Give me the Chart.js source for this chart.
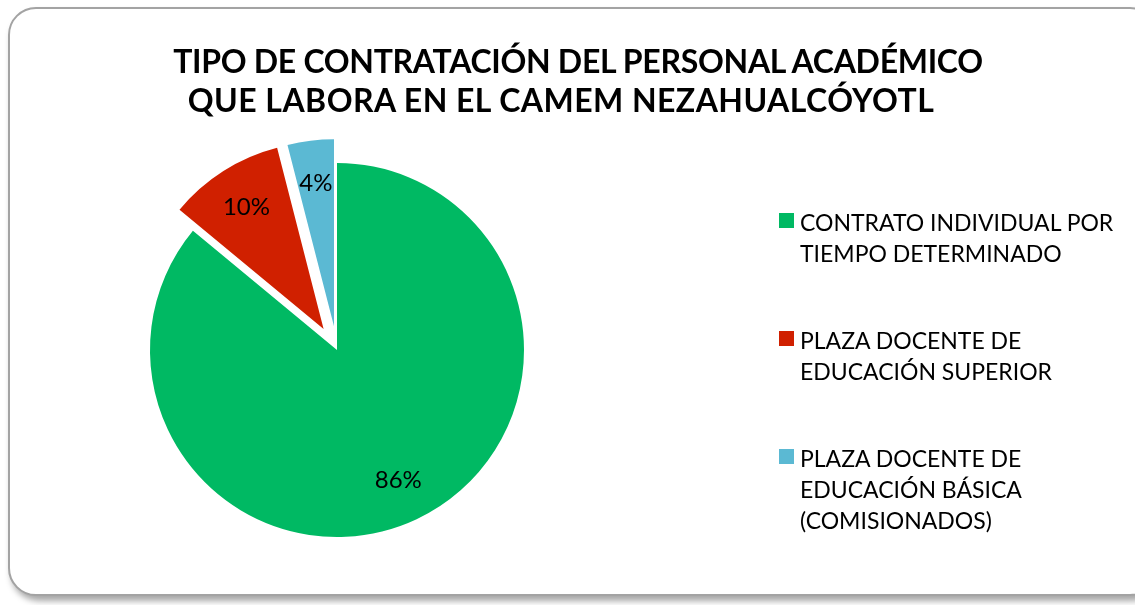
<!DOCTYPE html>
<html>
<head>
<meta charset="utf-8">
<script src="https://cdn.jsdelivr.net/npm/chart.js@4.4.1/dist/chart.umd.min.js"></script>
<style>
  html, body { margin:0; padding:0; background:#fff; }
  body { width:1135px; height:605px; overflow:hidden; position:relative; font-family: Lato, "Open Sans", sans-serif; }
  #frame { position:absolute; left:8px; top:7px; width:1150px; height:589px; border:2px solid #a3a3a3; border-radius:28px; box-shadow: 3px 5px 6px rgba(0,0,0,0.35); background:#fff; box-sizing:border-box; }
  #c { position:absolute; left:0; top:0; }
  .tl { position:absolute; font-weight:700; font-size:32px; color:#000; white-space:nowrap; text-align:center; line-height:39px; }
  #legend { position:absolute; left:779px; top:207px; }
  .li { position:relative; height:118px; }
  .sw { position:absolute; left:0; top:6px; width:15px; height:15px; }
  .tx { position:absolute; left:21px; top:0; font-size:23px; line-height:31px; color:#000; white-space:nowrap; }
</style>
</head>
<body>
<div id="frame"></div>
<canvas id="c" width="1135" height="605"></canvas>
<div id="t1" class="tl" style="left:0; width:1156px; top:41px; letter-spacing:-0.3px;">TIPO DE CONTRATACIÓN DEL PERSONAL ACADÉMICO</div>
<div id="t2" class="tl" style="left:0; width:1122px; top:80px; letter-spacing:0.45px;">QUE LABORA EN EL CAMEM NEZAHUALCÓYOTL</div>
<div id="legend"></div>
<script>
const categories = [
  ["CONTRATO INDIVIDUAL POR", "TIEMPO DETERMINADO"],
  ["PLAZA DOCENTE DE", "EDUCACIÓN SUPERIOR"],
  ["PLAZA DOCENTE DE", "EDUCACIÓN BÁSICA", "(COMISIONADOS)"]
];
const values = [86, 10, 4];
const colors = ["#00B963", "#D02000", "#5BB9D3"];
const explode = [0, 25, 24];

// HTML legend built from the data arrays
const leg = document.getElementById('legend');
categories.forEach((lines, i) => {
  const li = document.createElement('div'); li.className = 'li';
  const sw = document.createElement('div'); sw.className = 'sw'; sw.style.background = colors[i];
  const tx = document.createElement('div'); tx.className = 'tx'; tx.innerHTML = lines.join('<br>');
  li.appendChild(sw); li.appendChild(tx); leg.appendChild(li);
});

function midAngle(arc) {
  const p = arc.getProps(['startAngle', 'endAngle'], true);
  return (p.startAngle + p.endAngle) / 2;
}

// Draw the library's arc elements, each pulled out along its mid angle (exploded pie)
const explodePlugin = {
  id: 'explode',
  beforeDatasetDraw(chart, args) {
    const ctx = chart.ctx;
    const meta = args.meta;
    meta.data.forEach((arc, i) => {
      const m = midAngle(arc);
      const e = explode[i] || 0;
      ctx.save();
      ctx.translate(Math.cos(m) * e, Math.sin(m) * e);
      arc.draw(ctx, chart.chartArea);
      ctx.restore();
    });
    return false;
  }
};

const labelPlugin = {
  id: 'pctLabels',
  afterDatasetsDraw(chart) {
    const ctx = chart.ctx;
    const meta = chart.getDatasetMeta(0);
    const total = values.reduce((a, b) => a + b, 0);
    ctx.save();
    ctx.font = '24px Lato, "Open Sans", sans-serif';
    ctx.fillStyle = '#000';
    ctx.textAlign = 'center';
    ctx.textBaseline = 'middle';
    meta.data.forEach((arc, i) => {
      const p = arc.getProps(['x', 'y', 'outerRadius'], true);
      const m = midAngle(arc);
      const r = (explode[i] || 0) + p.outerRadius * 0.77;
      const x = p.x + Math.cos(m) * r;
      const y = p.y + Math.sin(m) * r;
      ctx.fillText(Math.round(values[i] / total * 100) + '%', x, y);
    });
    ctx.restore();
  }
};

new Chart(document.getElementById('c'), {
  type: 'pie',
  data: {
    labels: categories.map(l => l.join(' ')),
    datasets: [{
      data: values,
      backgroundColor: colors,
      borderWidth: 0,
      hoverBorderWidth: 0,
      offset: 0,
      hoverOffset: 0
    }]
  },
  options: {
    responsive: false,
    maintainAspectRatio: false,
    animation: false,
    events: [],
    layout: { padding: { left: 150, top: 163, right: 611, bottom: 68 } },
    plugins: {
      legend: { display: false },
      title: { display: false },
      tooltip: { enabled: false }
    }
  },
  plugins: [explodePlugin, labelPlugin]
});
</script>
</body>
</html>
